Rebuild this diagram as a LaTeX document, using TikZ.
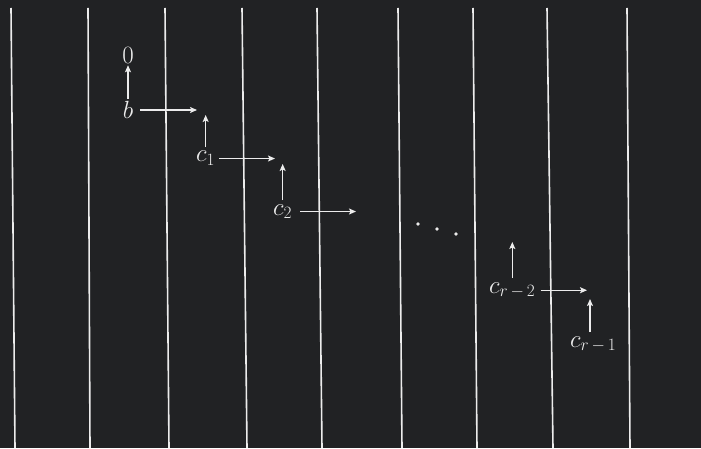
\documentclass[tikz,border=0pt]{standalone}
\usepackage{amsmath}
\usetikzlibrary{arrows.meta}
\definecolor{board}{RGB}{33,34,36}
\definecolor{chalk}{RGB}{236,236,236}

\begin{document}
\begin{tikzpicture}[x=1pt, y=-1pt,
  lbl/.style={text=chalk, inner sep=2pt, font=\fontsize{24}{28}\selectfont},
  jump/.style={draw=chalk, line width=1.3pt, -{Stealth[length=7pt, width=6pt, inset=1.5pt]}},
  rule/.style={draw=chalk, line width=1.6pt}]
  \fill[board] (0,0) rectangle (701,448);
  \foreach \xt/\xb in {11/15, 88/90, 165/169, 242/247, 317/322, 398/402, 473/477, 547/553, 627/630}
    \draw[rule] (\xt,8) -- (\xb,448);
  \node[lbl] at (128,55) (zero) {\(0\)};
  \node[lbl] at (128,110) (b) {\(b\)};
  \node[lbl, anchor=base west] at (194,162) (c1) {\(c_1\)};
  \node[lbl, anchor=base west] at (271,215) (c2) {\(c_2\)};
  \node[lbl, anchor=base west] at (487,293) (cr2) {\(c_{r\,-\,2}\)};
  \node[lbl, anchor=base west] at (568,347) (cr1) {\(c_{r\,-\,1}\)};
  \coordinate (h0) at (197,110);
  \coordinate (u1) at (206,115);
  \coordinate (h1) at (275,158);
  \coordinate (u2) at (282,164);
  \coordinate (h2) at (356,212);
  \coordinate (u3) at (513,242);
  \coordinate (h3) at (587,292);
  \coordinate (u4) at (590,299);
  \draw[jump] (b) -- (zero);
  \draw[jump, shorten <=5pt] (b) -- (b -| h0);
  \draw[jump, shorten <=2pt] (c1) -- (c1 |- u1);
  \draw[jump, shorten <=2pt] (c1) -- (c1 -| h1);
  \draw[jump, shorten <=2pt] (c2) -- (c2 |- u2);
  \draw[jump, shorten <=6pt] (c2) -- (c2 -| h2);
  \draw[jump, shorten <=2pt] (cr2) -- (cr2 |- u3);
  \draw[jump, shorten <=3pt] (cr2) -- (cr2 -| h3);
  \draw[jump, shorten <=2pt] (cr1.north -| u4) -- (u4);
  \foreach \dx/\dy in {418/224, 437/229, 456/234}
    \fill[chalk] (\dx,\dy) circle (1.9);
\end{tikzpicture}
\end{document}
